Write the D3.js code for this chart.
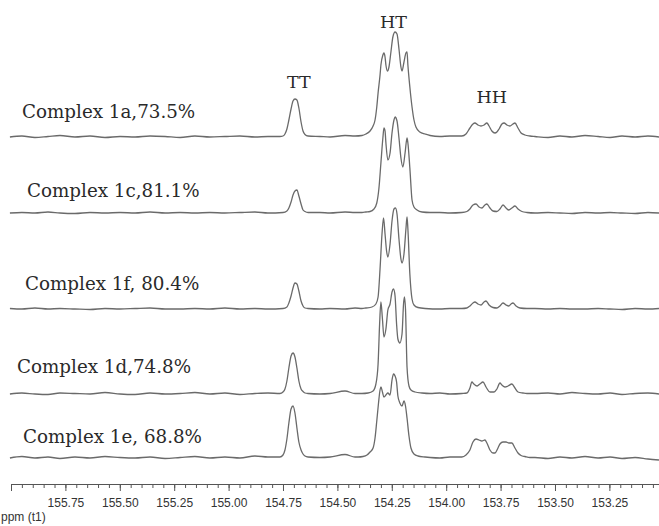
<!DOCTYPE html>
<html>
<head>
<meta charset="utf-8">
<script src="https://cdn.jsdelivr.net/npm/d3@7"></script>
<style>
  body { margin: 0; background: #fff; }
  svg { display: block; }
</style>
</head>
<body>
<div id="chart"></div>
<script type="text/javascript">

      var w = 659, h = 526;

      // sample names, top to bottom
      var labels = ["Complex 1a,73.5%", "Complex 1c,81.1%", "Complex 1f, 80.4%", "Complex 1d,74.8%", "Complex 1e, 68.8%"];
      // vertical offset of each trace (intensity units)
      var offsets = [321, 245, 149, 64, 0];

      var peakNames = ["TT", "HT", "HH"];
      var peakPpm = [154.677, 154.242, 153.790];

      var majorTicks = [156.00, 155.75, 155.50, 155.25, 155.00, 154.75, 154.50, 154.25, 154.00, 153.75, 153.50, 153.25];

      // baseline sampling positions (ppm) and the noise read at each one
      var basePpm = [156.005,155.950,155.890,155.830,155.775,155.706,155.637,155.568,155.499,155.430,155.361,155.292,155.223,155.155,155.086,155.017,154.948,154.879,154.819,
                     154.580,154.534,154.465,154.419, 154.029,153.983,
                     153.592,153.532,153.477,153.422,153.362,153.302,153.247,153.192,153.132,153.073,153.022];
      var noise1a = [0,1,-0.5,0.5,1.5,0,1,-0.5,0.5,0,1,0.5,-0.5,1,0,0.5,1,0,0.5, 0.5,0,1.5,1, 0.5,1, 0.5,-0.5,1,0,1.5,0.5,-0.5,1,0,1,0];
      var noise1c = [0,0.5,0,1,0,-0.5,0.5,0,0.5,0,1,0,0.5,0,0.5,0,0.5,1,0, 0.5,0,1,0.5, 0.5,0, 0,0.5,0,-0.5,0.5,0,0.5,0,-0.5,0.5,0];
      var noise1f = [0.5,0,1,0,0.5,0,-0.5,0.5,0,0.5,1,0,0,0.5,0,1,0,0.5,0, 0,0.5,0,1, 0,0.5, 0.5,0,0.5,0,0,0.5,0,-0.5,0.5,0,0.5];
      var noise1d = [0,1,0,-0.5,1,0.5,0,1.5,0,-0.5,1,0,0.5,1.5,0,1,-0.5,0.5,1, 0,0.5,3,0.5, 1,0, 0.5,1,0,1.5,0.5,0,1,-0.5,0.5,1,0];
      var noise1e = [0,1.5,0,1,-0.5,1,0,1.5,0.5,0,1,-0.5,0.5,1.5,0,1,0,2,1, 0.5,1,3.5,1, 0,1, 0.5,-0.5,1,0,1.5,0,1,-0.5,0.5,-1,-2];

      // peak regions [ppm, intensity]
      var peaks1a = [
        [154.764,0.5],[154.750,1],[154.741,3],[154.732,8],[154.723,17],[154.713,28],[154.704,36],[154.695,38],[154.686,37],[154.677,29],[154.667,15],[154.658,6],[154.649,2.5],[154.635,1],
        [154.387,1.5],[154.369,3],[154.350,6],[154.336,11],[154.327,17],[154.319,30],[154.313,44],[154.304,62],[154.300,72],[154.291,82],[154.286,84],[154.281,80],[154.277,72],[154.270,66],
        [154.263,70],[154.254,85],[154.245,100],[154.235,105],[154.226,103],[154.217,88],[154.208,70],[154.203,66],[154.194,75],[154.185,84],[154.180,85],[154.176,72],[154.167,50],
        [154.157,30],[154.148,17],[154.139,10],[154.121,5],[154.097,3],[154.074,1.5],
        [153.928,1],[153.909,3],[153.891,9],[153.877,13],[153.868,14],[153.854,12],[153.840,11],[153.826,12],[153.813,14],[153.803,11],[153.790,6],[153.776,4],[153.767,5],
        [153.757,8],[153.744,13],[153.734,14],[153.721,12],[153.707,11],[153.693,13],[153.684,14],[153.670,9],[153.656,4],[153.638,2],[153.615,1]
      ];
      var peaks1c = [
        [154.750,0.5],[154.732,2],[154.723,5],[154.713,11],[154.704,18],[154.695,22],[154.686,23],[154.677,17],[154.667,9],[154.658,3],[154.649,1.5],[154.635,0.5],
        [154.387,0.5],[154.369,1],[154.350,1.5],[154.332,4],[154.319,10],[154.309,25],[154.300,50],[154.291,75],[154.286,85],[154.281,82],[154.277,70],[154.268,53],
        [154.258,60],[154.249,80],[154.240,93],[154.235,96],[154.226,92],[154.217,75],[154.208,55],[154.199,46],[154.189,60],[154.180,75],[154.176,70],[154.167,45],
        [154.157,13],[154.148,6],[154.134,3],[154.111,1],[154.074,0.5],
        [153.928,0.5],[153.905,1.5],[153.891,4],[153.877,8],[153.863,9],[153.849,6],[153.836,5],[153.822,8],[153.813,9],[153.799,5],[153.785,2],[153.767,1.5],
        [153.753,4],[153.739,8],[153.725,5],[153.712,3],[153.698,5],[153.684,7],[153.670,4],[153.652,1.5],[153.629,0.5]
      ];
      var peaks1f = [
        [154.750,0.5],[154.732,2],[154.723,6],[154.713,13],[154.704,21],[154.695,26],[154.686,25],[154.677,18],[154.667,8],[154.658,3],[154.649,1],[154.635,0.5],
        [154.387,0.5],[154.369,1],[154.341,2],[154.323,5],[154.313,12],[154.304,40],[154.295,75],[154.288,91],[154.281,75],[154.274,58],[154.268,52],
        [154.258,65],[154.249,88],[154.240,100],[154.233,101],[154.226,95],[154.217,70],[154.208,50],[154.203,46],[154.194,55],[154.185,80],[154.180,92],[154.176,80],
        [154.167,35],[154.157,10],[154.148,4],[154.130,1.5],[154.097,0.5],
        [153.928,0.5],[153.905,1],[153.891,3],[153.877,6],[153.868,7],[153.854,5],[153.840,4],[153.826,7],[153.817,8],[153.803,4],[153.785,1.5],[153.767,1],
        [153.753,3],[153.739,6],[153.725,4],[153.712,3],[153.702,5],[153.693,6],[153.679,3],[153.661,1],[153.629,0.5]
      ];
      var peaks1d = [
        [154.764,0.5],[154.750,2],[154.741,5],[154.732,13],[154.723,26],[154.713,38],[154.704,41],[154.695,37],[154.686,26],[154.677,13],[154.667,5],[154.658,2.5],[154.649,1],[154.635,0.5],
        [154.387,0.5],[154.359,1],[154.336,3],[154.323,10],[154.313,30],[154.306,70],[154.300,92],[154.293,75],[154.286,57],[154.277,65],[154.268,84],
        [154.258,90],[154.249,102],[154.242,105],[154.235,98],[154.228,70],[154.222,55],[154.213,51],[154.203,60],[154.196,90],[154.192,97],[154.187,85],[154.180,27],
        [154.171,8],[154.162,4],[154.143,2],[154.111,1],[154.074,0.5],
        [153.928,0.5],[153.905,1],[153.891,6],[153.882,12],[153.873,10],[153.858,8],[153.845,10],[153.831,12],[153.817,7],[153.799,2],[153.780,2],[153.767,5],
        [153.753,11],[153.744,9],[153.730,7],[153.716,8],[153.698,10],[153.684,6],[153.670,2],[153.647,1],[153.629,0.5]
      ];
      var peaks1e = [
        [154.764,1],[154.750,3],[154.741,8],[154.732,19],[154.723,35],[154.713,49],[154.704,52],[154.695,45],[154.686,30],[154.677,16],[154.667,8],[154.658,4],[154.649,2],[154.635,1],
        [154.405,1],[154.382,1.5],[154.364,3],[154.350,6],[154.336,10],[154.327,20],[154.319,37],[154.311,55],[154.304,68],[154.300,71],[154.293,66],[154.286,61],[154.277,63],[154.268,65],
        [154.258,63],[154.249,78],[154.242,84],[154.235,82],[154.228,76],[154.222,62],[154.213,55],[154.203,52],[154.194,57],[154.187,52],[154.180,40],[154.171,22],
        [154.162,10],[154.148,4],[154.130,2],[154.097,1],[154.074,0.5],
        [153.928,1],[153.909,3],[153.891,8],[153.877,16],[153.863,19],[153.849,18],[153.836,17],[153.822,18],[153.813,15],[153.799,8],[153.785,5],[153.776,5],
        [153.762,10],[153.753,14],[153.739,16],[153.725,16],[153.712,15],[153.698,15],[153.684,10],[153.670,5],[153.656,2.5],[153.638,1.5],[153.615,0.5]
      ];

      var peakSets = [peaks1a, peaks1c, peaks1f, peaks1d, peaks1e];
      var noiseSets = [noise1a, noise1c, noise1f, noise1d, noise1e];

      var x = d3.scaleLinear().domain([156.0, 153.022]).range([11, 659]);
      var y = d3.scaleLinear().domain([0, 458]).range([458, 0]);

      var svg = d3.select("#chart")
                  .append("svg")
                  .attr("width", w)
                  .attr("height", h);

      var line = d3.line()
                   .x(function(d) { return x(d[0]); })
                   .y(function(d) { return y(d[1]); })
                   .curve(d3.curveMonotoneX);

      var traces = peakSets.map(function(p, i) {
        var pts = basePpm.map(function(v, j) { return [v, noiseSets[i][j] + offsets[i]]; })
                         .concat(p.map(function(d) { return [d[0], d[1] + offsets[i]]; }));
        pts.sort(function(a, b) { return b[0] - a[0]; });
        return pts;
      });

      svg.selectAll("path.trace")
         .data(traces)
         .enter()
         .append("path")
         .attr("class", "trace")
         .attr("d", line)
         .attr("fill", "none")
         .attr("stroke", "#6a6a6a")
         .attr("stroke-width", 1.3);

      // sample labels sit a little above their own baseline
      var labelX = [22, 27, 25, 17, 23];
      var labelLift = [19, 16, 19, 21, 15];
      svg.selectAll("text.sample")
         .data(labels)
         .enter()
         .append("text")
         .attr("class", "sample")
         .attr("x", function(d, i) { return labelX[i]; })
         .attr("y", function(d, i) { return y(offsets[i]) - labelLift[i]; })
         .attr("font-family", "'DejaVu Serif', serif")
         .attr("font-size", "18.3px")
         .attr("fill", "#2a2a2a")
         .text(function(d) { return d; });

      var peakY = [88, 28, 103];
      svg.selectAll("text.peak")
         .data(peakNames)
         .enter()
         .append("text")
         .attr("class", "peak")
         .attr("x", function(d, i) { return x(peakPpm[i]); })
         .attr("y", function(d, i) { return peakY[i]; })
         .attr("text-anchor", "middle")
         .attr("font-family", "'DejaVu Serif', serif")
         .attr("font-size", "17.5px")
         .attr("fill", "#2a2a2a")
         .text(function(d) { return d; });

      // ppm axis: minor ticks every 0.05, labelled majors every 0.25
      var minorTicks = d3.range(0, 60).map(function(k) { return 156.0 - k * 0.05; });
      var gAxis = svg.append("g").attr("transform", "translate(0,484)");

      gAxis.append("g")
           .call(d3.axisBottom(x).tickValues(minorTicks).tickSize(4).tickSizeOuter(0).tickFormat(""));
      gAxis.append("g")
           .call(d3.axisBottom(x).tickValues(majorTicks).tickSize(7).tickSizeOuter(0).tickPadding(7)
                 .tickFormat(function(d) { return d === 156 ? "" : d.toFixed(2); }));

      gAxis.selectAll("path, line").attr("stroke", "#555");
      gAxis.selectAll("text")
           .attr("font-family", "'Liberation Sans', Arial, sans-serif")
           .attr("font-size", "12px")
           .attr("fill", "#333");

      svg.append("text")
         .attr("x", 1)
         .attr("y", 521)
         .attr("font-family", "'Liberation Sans', Arial, sans-serif")
         .attr("font-size", "12px")
         .attr("fill", "#333")
         .text("ppm (t1)");

</script>
</body>
</html>
